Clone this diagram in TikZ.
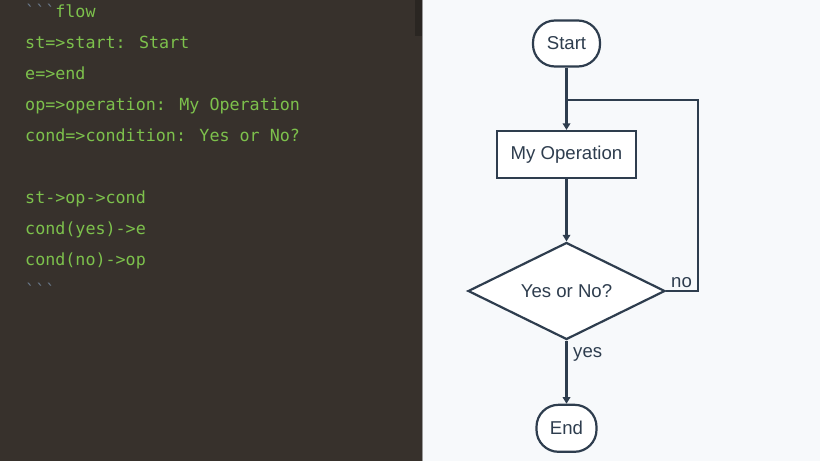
\documentclass[tikz,border=0pt]{standalone}
\usepackage{fontspec}
\setmainfont{Liberation Sans}
\newfontfamily\codefont[Ligatures=TeXOff]{DejaVu Sans Mono}
\usetikzlibrary{arrows.meta,shapes.geometric}
\definecolor{leftbg}{HTML}{37312C}
\definecolor{rightbg}{HTML}{F7F9FB}
\definecolor{codegreen}{HTML}{7DC14C}
\definecolor{tick}{HTML}{6A7A8C}
\definecolor{ink}{HTML}{2E3D4E}
\definecolor{scroll}{HTML}{2A2622}
\definecolor{divider}{HTML}{9A9A9A}
\begin{document}
\begin{tikzpicture}[x=1pt,y=-1pt,
  code/.style={anchor=base west, inner sep=0pt, text=codegreen, font=\codefont\fontsize{16.7}{20}\selectfont},
  shapebase/.style={draw=ink, line width=2.2pt, fill=white, text=ink, inner sep=0pt, font=\fontsize{18.6}{20}\selectfont},
  term/.style={shapebase, rectangle, rounded corners=22pt},
  proc/.style={shapebase, rectangle},
  decide/.style={shapebase, diamond, inner sep=-12pt},
  ln/.style={draw=ink, line width=2.2pt},
  arr/.style={ln, -{Triangle[length=6.5pt,width=7.5pt]}},
  lbl/.style={anchor=base west, inner sep=0pt, text=ink, font=\fontsize{18.6}{20}\selectfont}]
\useasboundingbox (0,0) rectangle (820,461);
% panels
\fill[leftbg] (0,0) rectangle (422,461);
\fill[rightbg] (423,0) rectangle (820,461);
\fill[divider] (422,0) rectangle (423,461);
\fill[scroll] (415,0) rectangle (422,36);
% code
\node[code] (c1) at (25,17) {\textcolor{tick}{```}flow};
\node[code] (c2) at (25,48) {st=>start: Start};
\node[code] (c3) at (25,79) {e=>end};
\node[code] (c4) at (25,110) {op=>operation: My Operation};
\node[code] (c5) at (25,141) {cond=>condition: Yes or No?};
\node[code] (c6) at (25,203) {st->op->cond};
\node[code] (c7) at (25,234) {cond(yes)->e};
\node[code] (c8) at (25,265) {cond(no)->op};
\node[code, text=tick] (c9) at (25,296) {```};
% flowchart
\node[term, minimum width=67pt, minimum height=46pt] (st) at (566.5,43.5) {Start};
\node[proc, minimum width=139pt, minimum height=47pt] (op) at (566.5,154.5) {My Operation};
\node[decide, minimum width=197pt, minimum height=97pt] (cond) at (566.5,291) {Yes or No?};
\node[term, minimum width=60pt, minimum height=47pt] (e) at (566.5,428.3) {End};
\coordinate (j) at (566.5,100);
\draw[arr] (st) -- (op);
\draw[arr] (op) -- (cond);
\draw[arr] (cond) -- (e);
\draw[ln] (cond.east) -- ++(31.5,0) |- (j);
\node[lbl] (nol) at (671,287) {no};
\node[lbl] (yesl) at (573,357) {yes};
\end{tikzpicture}
\end{document}
